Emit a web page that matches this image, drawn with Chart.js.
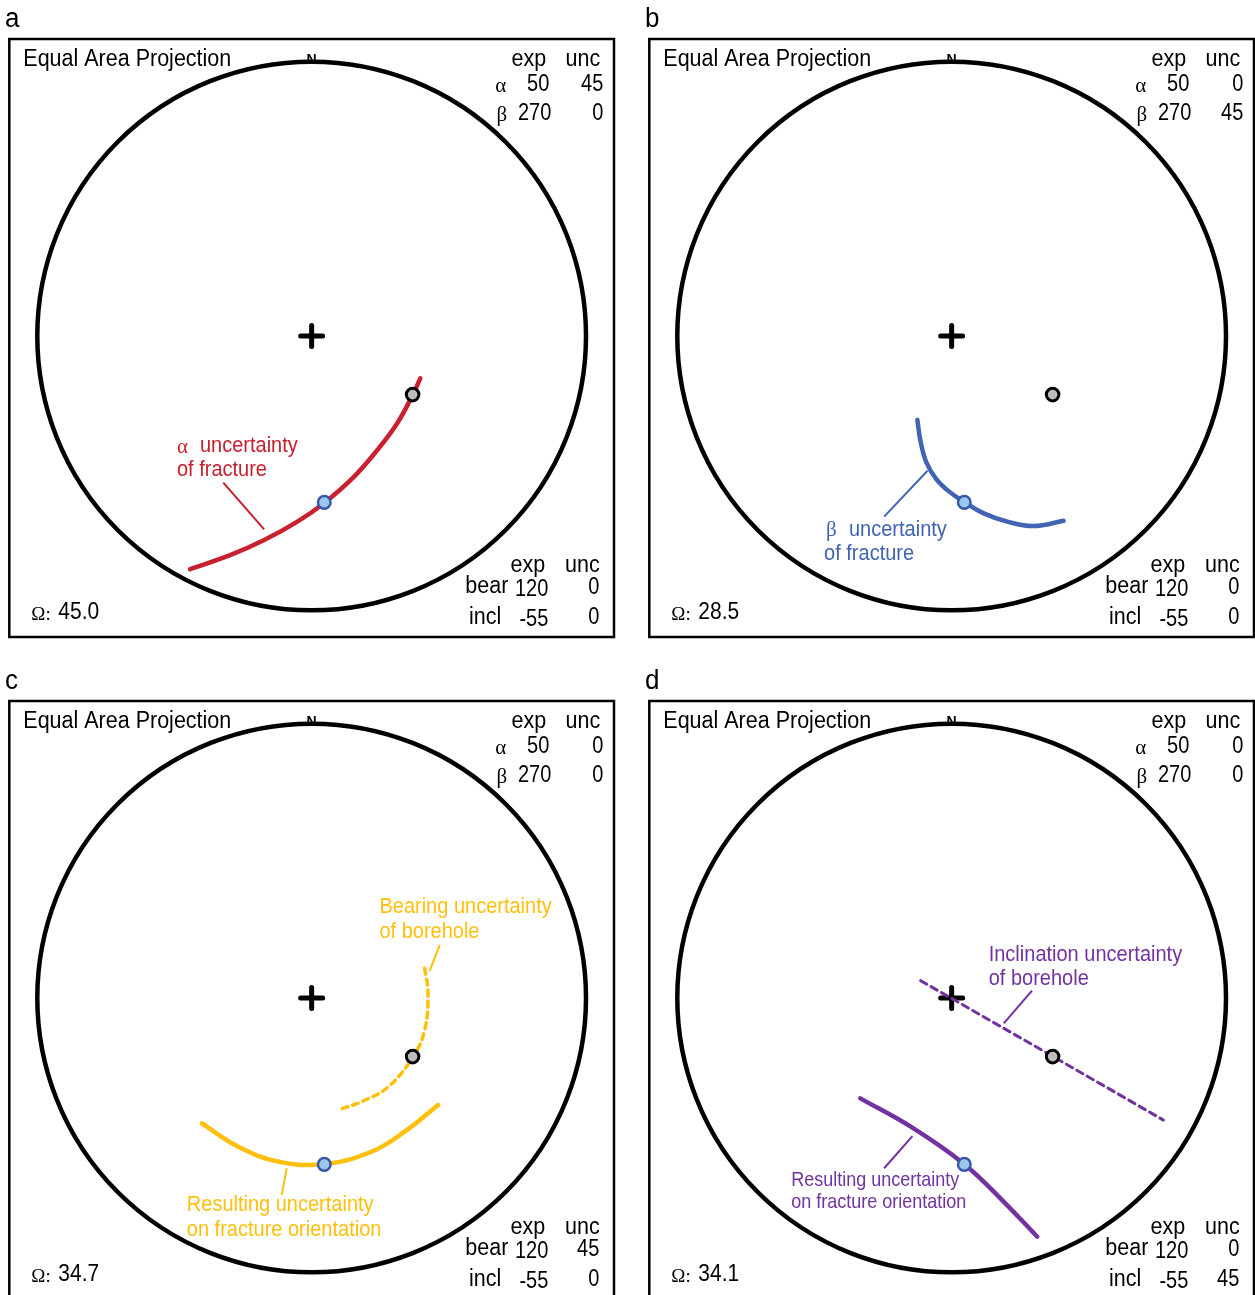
<!DOCTYPE html>
<html>
<head>
<meta charset="utf-8">
<script src="https://cdn.jsdelivr.net/npm/chart.js@4.4.0/dist/chart.umd.min.js"></script>
<style>
  html, body { margin: 0; padding: 0; background: #fff; overflow: hidden; }
  #wrap { position: relative; width: 1255px; height: 1295px; }
  canvas { position: absolute; }
</style>
</head>
<body>
<div id="wrap">
  <canvas id="pa" width="640" height="662" style="left:0;top:0"></canvas>
  <canvas id="pb" width="640" height="662" style="left:640px;top:0"></canvas>
  <canvas id="pc" width="640" height="662" style="left:0;top:662px"></canvas>
  <canvas id="pd" width="640" height="662" style="left:640px;top:662px"></canvas>
</div>
<script>
// table values per panel
const panelLetters = ['a', 'b', 'c', 'd'];
const omegaValues = ['45.0', '28.5', '34.7', '34.1'];
const alphaExp = [50, 50, 50, 50];
const alphaUnc = [45, 0, 0, 0];
const betaExp = [270, 270, 270, 270];
const betaUnc = [0, 45, 0, 0];
const bearExp = [120, 120, 120, 120];
const bearUnc = [0, 0, 45, 0];
const inclExp = [-55, -55, -55, -55];
const inclUnc = [0, 0, 0, 45];

// poles (unit = net radius)
const boreholePole = { x: 0.368, y: -0.213 };
const fracturePole = { x: 0.046, y: -0.605 };

// a: alpha uncertainty of fracture
const alphaArcX = [0.396, 0.368, 0.312, 0.239, 0.154, 0.047, -0.052, -0.173, -0.295, -0.443];
const alphaArcY = [-0.154, -0.215, -0.317, -0.415, -0.512, -0.606, -0.675, -0.742, -0.796, -0.848];
// b: beta uncertainty of fracture
const betaArcX = [-0.125, -0.114, -0.092, -0.056, -0.010, 0.045, 0.117, 0.203, 0.299, 0.408];
const betaArcY = [-0.305, -0.380, -0.460, -0.520, -0.565, -0.603, -0.645, -0.675, -0.691, -0.672];
// c: bearing uncertainty of borehole + result
const bearArcX = [0.412, 0.424, 0.412, 0.370, 0.279, 0.182, 0.103];
const bearArcY = [0.108, 0.017, -0.116, -0.213, -0.323, -0.377, -0.405];
const bearResX = [-0.400, -0.267, -0.121, 0.046, 0.218, 0.339, 0.461];
const bearResY = [-0.456, -0.541, -0.595, -0.604, -0.559, -0.486, -0.389];
// d: inclination uncertainty of borehole + result
const inclLineX = [-0.113, 0.370, 0.772];
const inclLineY = [0.063, -0.213, -0.444];
const inclResX = [-0.333, -0.149, 0.047, 0.190, 0.312];
const inclResY = [-0.365, -0.468, -0.605, -0.741, -0.868];

const red = '#c8202e';
const blue = '#4063b4';
const yellow = '#ffbf0a';
const purple = '#7232a0';

Chart.defaults.font.family = 'Liberation Sans';

function pts(xs, ys) {
  return xs.map((v, i) => ({ x: v, y: ys[i] }));
}

const panels = [
  {
    curves: [{ data: pts(alphaArcX, alphaArcY), color: red, dash: [] }],
    leaders: [{ data: [{ x: -0.322, y: -0.533 }, { x: -0.173, y: -0.703 }], color: red }],
    notes: [{ x: -0.491, y: -0.400, greek: 'α', text: 'uncertainty', color: red, size: 20 },
            { x: -0.491, y: -0.487, text: 'of fracture', color: red, size: 20 }]
  },
  {
    curves: [{ data: pts(betaArcX, betaArcY), color: blue, dash: [] }],
    leaders: [{ data: [{ x: -0.088, y: -0.490 }, { x: -0.246, y: -0.657 }], color: blue }],
    notes: [{ x: -0.458, y: -0.705, greek: 'β', text: 'uncertainty', color: blue, size: 20 },
            { x: -0.465, y: -0.793, text: 'of fracture', color: blue, size: 20 }]
  },
  {
    curves: [{ data: pts(bearArcX, bearArcY), color: yellow, dash: [6, 5], width: 3.5 },
             { data: pts(bearResX, bearResY), color: yellow, dash: [] }],
    leaders: [{ data: [{ x: 0.467, y: 0.193 }, { x: 0.430, y: 0.099 }], color: yellow },
              { data: [{ x: -0.091, y: -0.619 }, { x: -0.109, y: -0.716 }], color: yellow }],
    notes: [{ x: 0.247, y: 0.331, text: 'Bearing uncertainty', color: yellow, size: 20 },
            { x: 0.247, y: 0.240, text: 'of borehole', color: yellow, size: 20 },
            { x: -0.455, y: -0.753, text: 'Resulting uncertainty', color: yellow, size: 20 },
            { x: -0.455, y: -0.844, text: 'on fracture orientation', color: yellow, size: 20 }]
  },
  {
    curves: [{ data: pts(inclLineX, inclLineY), color: purple, dash: [7, 5], width: 3, tension: 0 },
             { data: pts(inclResX, inclResY), color: purple, dash: [] }],
    leaders: [{ data: [{ x: 0.293, y: 0.027 }, { x: 0.190, y: -0.092 }], color: purple },
              { data: [{ x: -0.143, y: -0.502 }, { x: -0.246, y: -0.619 }], color: purple }],
    notes: [{ x: 0.135, y: 0.156, text: 'Inclination uncertainty', color: purple, size: 20 },
            { x: 0.135, y: 0.069, text: 'of borehole', color: purple, size: 20 },
            { x: -0.585, y: -0.665, text: 'Resulting uncertainty', color: purple, size: 18 },
            { x: -0.585, y: -0.745, text: 'on fracture orientation', color: purple, size: 18 }]
  }
];

const SANS = '"Liberation Sans", Arial, sans-serif';
const SERIF = '"Liberation Serif", "Times New Roman", serif';

// text slightly stretched vertically, like the original artwork
function txt(ctx, s, x, y, font, align, sy) {
  ctx.save();
  ctx.font = font;
  ctx.textAlign = align || 'left';
  ctx.textBaseline = 'middle';
  ctx.translate(x, y);
  ctx.scale(1, sy || 1.1);
  ctx.fillText(s, 0, 0);
  ctx.restore();
}

const netPlugin = {
  id: 'net',
  beforeDatasetsDraw(chart) {
    const { ctx, chartArea: a, scales: { x, y } } = chart;
    const cx = x.getPixelForValue(0), cy = y.getPixelForValue(0);
    const r = x.getPixelForValue(1) - cx;
    ctx.save();
    ctx.strokeStyle = '#000';
    ctx.lineWidth = 2.5;
    ctx.strokeRect(a.left, a.top, a.width, a.height);
    ctx.lineWidth = 4.5;
    ctx.beginPath();
    ctx.arc(cx, cy, r, 0, Math.PI * 2);
    ctx.stroke();
    // centre cross
    ctx.lineWidth = 5;
    ctx.lineCap = 'round';
    ctx.beginPath();
    ctx.moveTo(cx - 11, cy); ctx.lineTo(cx + 11, cy);
    ctx.moveTo(cx, cy - 10.5); ctx.lineTo(cx, cy + 10.5);
    ctx.stroke();
    ctx.restore();
  },
  afterDatasetsDraw(chart) {
    const { ctx, chartArea: a, scales: { x, y } } = chart;
    const i = chart.options.plugins.net.index;
    const L = a.left, T = a.top;
    const w = (s) => s + 'px ' + SANS;
    const g = (s) => s + 'px ' + SERIF;
    ctx.save();
    ctx.fillStyle = '#000';

    // panel letter
    txt(ctx, panelLetters[i], 5, 19, w(26), 'left', 1.05);

    txt(ctx, 'Equal Area Projection', L + 14, T + 20, w(21.5));
    txt(ctx, 'N', x.getPixelForValue(0), T + 21, 'bold 14px ' + SANS, 'center', 1);

    // upper table
    txt(ctx, 'exp', L + 519.5, T + 20, w(21.5), 'center');
    txt(ctx, 'unc', L + 573.5, T + 20, w(21.5), 'center');
    txt(ctx, 'α', L + 497, T + 47, g(21), 'right', 1);
    txt(ctx, 'β', L + 498, T + 76, g(21), 'right', 1);
    txt(ctx, String(alphaExp[i]), L + 540, T + 46, w(20), 'right', 1.15);
    txt(ctx, String(alphaUnc[i]), L + 594, T + 46, w(20), 'right', 1.15);
    txt(ctx, String(betaExp[i]), L + 542, T + 75, w(20), 'right', 1.15);
    txt(ctx, String(betaUnc[i]), L + 594, T + 75, w(20), 'right', 1.15);

    // lower table
    txt(ctx, 'exp', L + 518.5, T + 526, w(21.5), 'center');
    txt(ctx, 'unc', L + 573, T + 526, w(21.5), 'center');
    txt(ctx, 'bear', L + 499, T + 547, w(21.5), 'right');
    txt(ctx, 'incl', L + 492, T + 578, w(21.5), 'right');
    txt(ctx, String(bearExp[i]), L + 539, T + 551, w(20), 'right', 1.15);
    txt(ctx, String(bearUnc[i]), L + 590, T + 549, w(20), 'right', 1.15);
    txt(ctx, String(inclExp[i]), L + 539, T + 581, w(20), 'right', 1.15);
    txt(ctx, String(inclUnc[i]), L + 590, T + 579, w(20), 'right', 1.15);

    // omega
    txt(ctx, 'Ω:', L + 22, T + 576, g(19), 'left', 1);
    txt(ctx, omegaValues[i], L + 49, T + 574, w(21));

    // annotations
    panels[i].notes.forEach(n => {
      let px = x.getPixelForValue(n.x);
      const py = y.getPixelForValue(n.y);
      ctx.fillStyle = n.color;
      if (n.greek) {
        txt(ctx, n.greek, px, py + 1, g(n.size + 1), 'left', 1);
        px += 23;
      }
      txt(ctx, n.text, px, py, w(n.size), 'left', 1.08);
    });
    ctx.restore();
  }
};

function makePanel(id, i) {
  const p = panels[i];
  const datasets = [
    { data: [boreholePole], pointRadius: 6.3, pointBackgroundColor: '#bdbdbd',
      pointBorderColor: '#000', pointBorderWidth: 3, order: 0 },
    { data: [fracturePole], pointRadius: 6.3, pointBackgroundColor: '#9dc6ec',
      pointBorderColor: '#3658a8', pointBorderWidth: 2.5, order: 0 }
  ];
  p.curves.forEach(c => datasets.push({
    data: c.data, showLine: true, pointRadius: 0, borderColor: c.color,
    borderWidth: c.width || 4.5, borderDash: c.dash, borderCapStyle: 'round',
    tension: c.tension === undefined ? 0.4 : c.tension, order: 1
  }));
  p.leaders.forEach(l => datasets.push({
    data: l.data, showLine: true, pointRadius: 0, borderColor: l.color,
    borderWidth: 2, order: 2
  }));
  return new Chart(document.getElementById(id), {
    type: 'scatter',
    data: { datasets },
    options: {
      responsive: false,
      animation: false,
      events: [],
      layout: { padding: { left: 8, top: 39, right: 26, bottom: 25 } },
      scales: {
        x: { type: 'linear', min: -1.102, max: 1.102, display: false },
        y: { type: 'linear', min: -1.0945, max: 1.08, display: false }
      },
      plugins: {
        legend: { display: false },
        tooltip: { enabled: false },
        net: { index: i }
      }
    },
    plugins: [netPlugin]
  });
}

['pa', 'pb', 'pc', 'pd'].forEach((id, i) => makePanel(id, i));
</script>
</body>
</html>
